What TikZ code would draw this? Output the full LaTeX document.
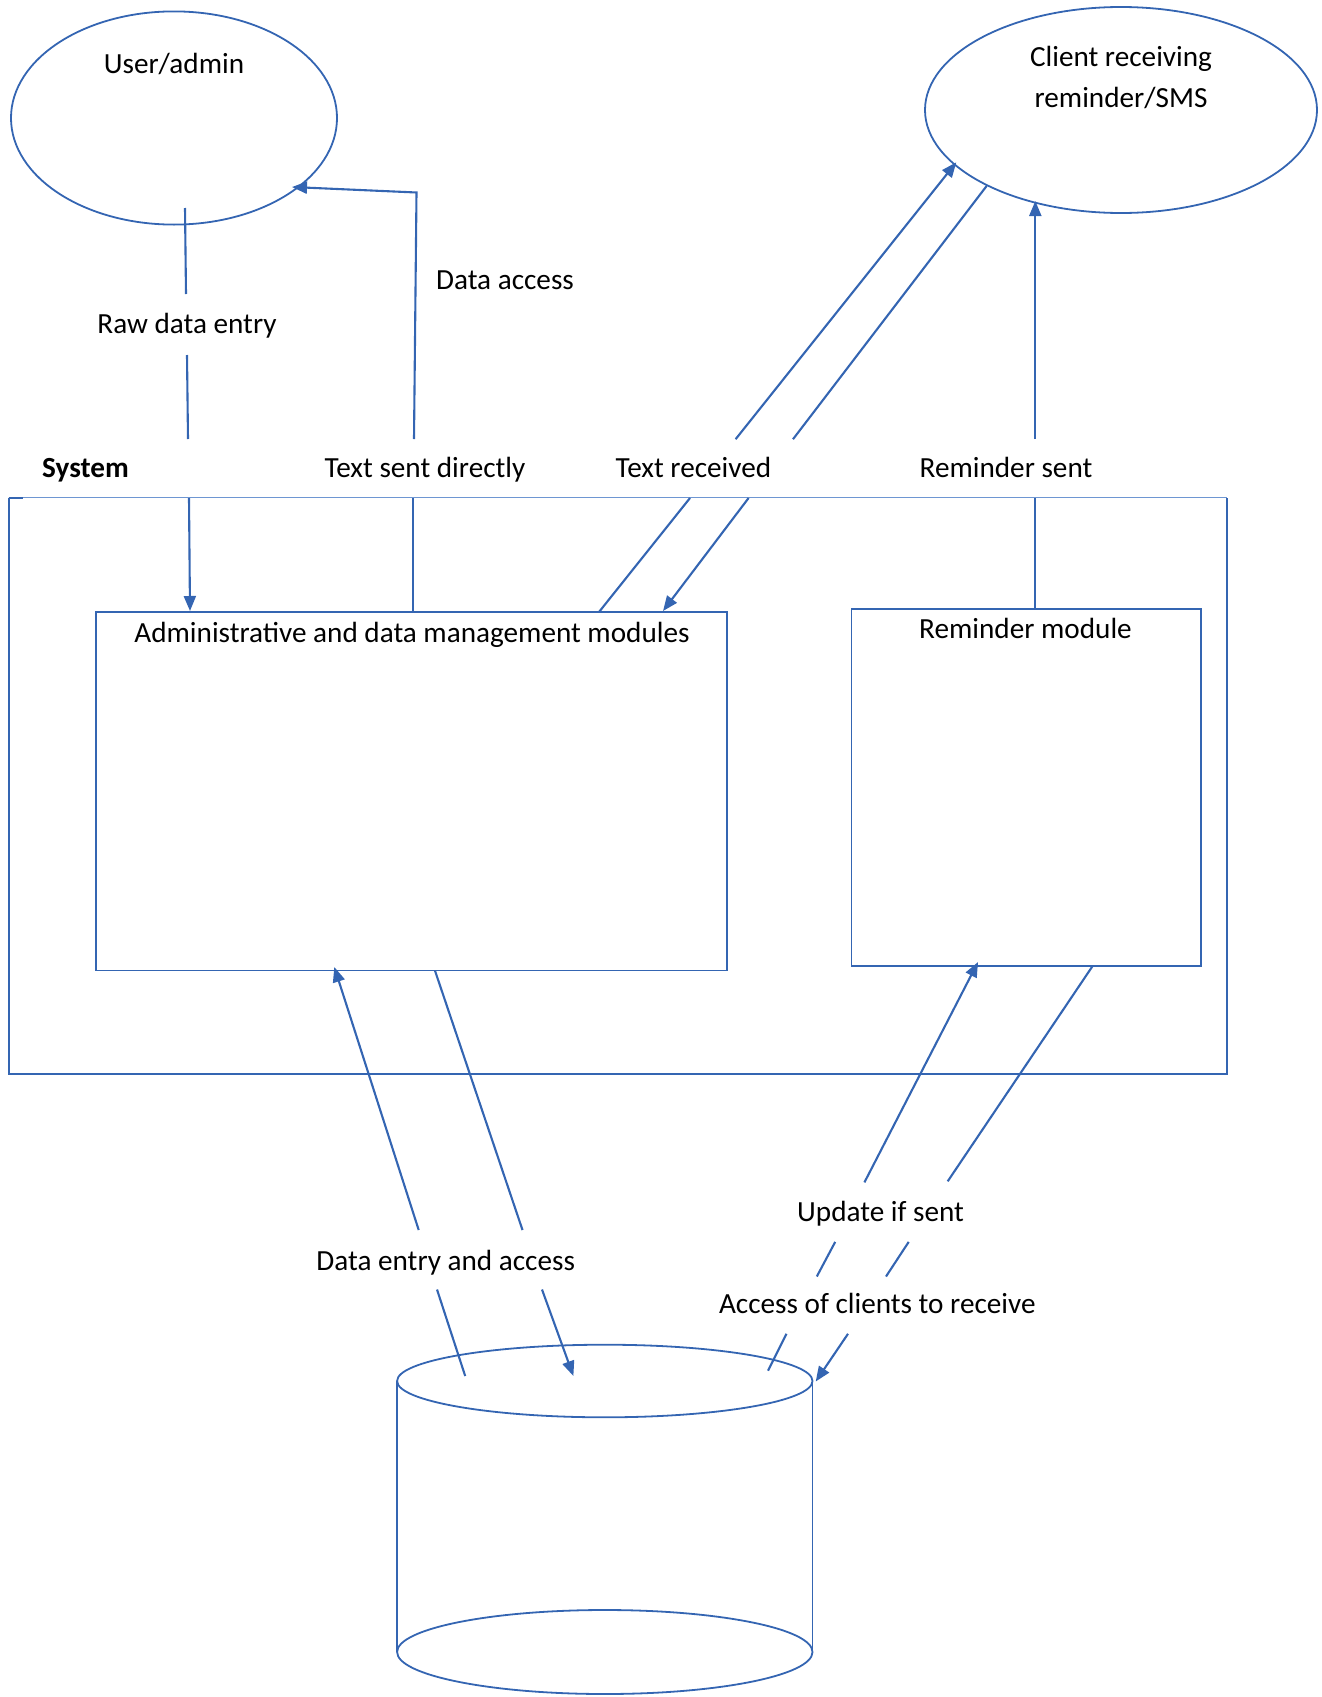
\documentclass[tikz,border=0pt]{standalone}
\usepackage{fontspec}
\setmainfont{Carlito}
\usetikzlibrary{arrows.meta,shapes.geometric}
\definecolor{lblue}{RGB}{52,101,178}
\definecolor{llblue}{RGB}{110,150,210}
\begin{document}
\begin{tikzpicture}[x=0.5pt,y=-0.5pt,
  font=\fontsize{14.6}{17.5}\selectfont,
  conn/.style={draw=lblue, line width=1.05pt},
  arr/.style={conn, -{Triangle[length=7.5pt,width=6pt]}},
  shapeline/.style={draw=lblue, line width=0.9pt},
  boxnode/.style={shapeline, rectangle, inner sep=0pt, outer sep=0pt},
  ellnode/.style={shapeline, ellipse, inner sep=0pt, outer sep=0pt},
  lbl/.style={inner sep=0pt, text=black, anchor=center, text height=0.7em, text depth=0pt, yshift=-1.65pt}]
\useasboundingbox (0,0) rectangle (1322,1697);

% ellipses
\node[ellnode, minimum width=163pt, minimum height=106.6pt] (user) at (174,118) {};
\node[ellnode, minimum width=196pt, minimum height=103pt] (client) at (1121,110) {};
\node[lbl] (tuser) at (174,63) {User/admin};
\node[lbl] (tclient1) at (1121,56) {Client receiving};
\node[lbl] (tclient2) at (1121,97) {reminder/SMS};

% boxes
\node[rectangle, inner sep=0pt, outer sep=0pt, minimum width=609.1pt, minimum height=288.3pt] (system) at (617.7,785.9) {};
\draw[shapeline] (system.north west) -- (system.south west) -- (system.south east) -- (system.north east);
\draw[draw=llblue, line width=0.5pt] (system.north west) -- (system.north east);
\draw[shapeline] (system.north west) -- ++(14,0);
\node[boxnode, minimum width=315.35pt, minimum height=179.05pt] (admin) at (411.65,791.35) {};
\node[boxnode, minimum width=174.7pt, minimum height=178.5pt] (remind) at (1026.1,787.5) {};
\node[lbl] (tadmin) at (412,632) {Administrative and data management modules};
\node[lbl] (tremind) at (1025.5,628.5) {Reminder module};

% labels
\node[lbl] (lraw) at (187,323.5) {Raw data entry};
\node[lbl] (lacc) at (505,279) {Data access};
\node[lbl] (lsys) at (85.5,467) {\bfseries System};
\node[lbl] (lsent) at (425,467) {Text sent directly};
\node[lbl] (lrecv) at (693.4,467) {Text received};
\node[lbl] (lrem) at (1006,467) {Reminder sent};
\node[lbl] (lentry) at (445.7,1260) {Data entry and access};
\node[lbl] (lupd) at (880.6,1211.6) {Update if sent};
\node[lbl] (lclients) at (877.3,1303.6) {Access of clients to receive};

% database cylinder
\coordinate (dbtop) at (604.8,1381);
\coordinate (dbbot) at (604.8,1652);
\draw[shapeline] (dbtop) ellipse [x radius=207.7, y radius=36.3];
\draw[shapeline] (dbbot) ellipse [x radius=207.7, y radius=42];
\draw[shapeline] (397.1,1381) coordinate (dbl1) -- (397.1,1652) coordinate (dbl2);
\draw[shapeline] (812.5,1381) coordinate (dbr1) -- (812.5,1652) coordinate (dbr2);

% raw data entry
\coordinate (r1) at (185,208);
\coordinate (r2) at (186,294);
\coordinate (r3) at (187,355);
\coordinate (r4) at (188,439);
\coordinate (r5) at (189,498);
\coordinate (r6) at (190,611);
\draw[conn] (r1) -- (r2);
\draw[conn] (r3) -- (r4);
\draw[arr] (r5) -- (r6);

% text sent directly / data access
\coordinate (s1) at (413,612);
\coordinate (s2) at (413,498);
\coordinate (s3) at (414,439);
\coordinate (s4) at (416.5,192.5);
\coordinate (s5) at (292,187);
\draw[conn] (s1) -- (s2);
\draw[arr] (s3) -- (s4) -- (s5);

% text received
\coordinate (a1) at (599,612);
\coordinate (a2) at (690,498);
\coordinate (a3) at (735.6,439.2);
\coordinate (a4) at (956.3,162.3);
\draw[conn] (a1) -- (a2);
\draw[arr] (a3) -- (a4);
\coordinate (b1) at (986.6,186);
\coordinate (b2) at (793,439.2);
\coordinate (b3) at (748.6,498);
\coordinate (b4) at (663,611);
\draw[conn] (b1) -- (b2);
\draw[arr] (b3) -- (b4);

% reminder sent
\coordinate (m1) at (1035.3,609);
\coordinate (m2) at (1035.3,498);
\coordinate (m3) at (1035.3,439.2);
\coordinate (m4) at (1035.3,201);
\draw[conn] (m1) -- (m2);
\draw[arr] (m3) -- (m4);

% data entry and access
\coordinate (c1) at (465.2,1376);
\coordinate (c2) at (437,1289.5);
\coordinate (c3) at (418.7,1230);
\coordinate (c4) at (334.3,967);
\draw[conn] (c1) -- (c2);
\draw[arr] (c3) -- (c4);
\coordinate (d1) at (434.9,970.4);
\coordinate (d2) at (522.5,1230);
\coordinate (d3) at (542,1289.5);
\coordinate (d4) at (573.4,1376);
\draw[conn] (d1) -- (d2);
\draw[arr] (d3) -- (d4);

% update if sent / access of clients
\coordinate (e1) at (768,1370.7);
\coordinate (e2) at (786.5,1333.8);
\coordinate (e3) at (816.8,1276.5);
\coordinate (e4) at (835.2,1241.9);
\coordinate (e5) at (864.4,1182.4);
\coordinate (e6) at (978,962);
\draw[conn] (e1) -- (e2);
\draw[conn] (e3) -- (e4);
\draw[arr] (e5) -- (e6);
\coordinate (f1) at (1092.6,966);
\coordinate (f2) at (947.7,1181.3);
\coordinate (f3) at (908.7,1241.9);
\coordinate (f4) at (886,1276.5);
\coordinate (f5) at (848,1333.8);
\coordinate (f6) at (815.7,1381.5);
\draw[conn] (f1) -- (f2);
\draw[conn] (f3) -- (f4);
\draw[arr] (f5) -- (f6);
\end{tikzpicture}
\end{document}
